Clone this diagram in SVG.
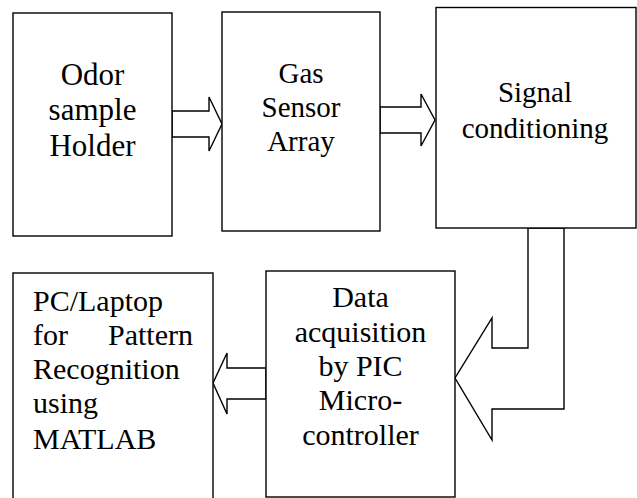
<svg xmlns="http://www.w3.org/2000/svg" width="637" height="498" viewBox="0 0 637 498">
  <style>
    .box { fill: #ffffff; stroke: #000000; stroke-width: 1.4; }
    .arrow { fill: #ffffff; stroke: #000000; stroke-width: 1.4; stroke-linejoin: miter; }
    .mid { text-anchor: middle; }
  </style>
  <rect width="637" height="498" fill="#ffffff"/>

  <!-- block arrows between stages -->
  <g id="connectors">
    <polygon class="arrow" points="172,111 209,111 209,97 222,124 209,151 209,137 172,137"/>
    <polygon class="arrow" points="380,107 421,107 421,94 435,120 421,146 421,133 380,133"/>
    <polygon class="arrow" points="528,228 528,348 492,348 492,318 455,378 492,440 492,409 564,409 564,228"/>
    <polygon class="arrow" points="266,368 227,368 227,353 213,383 227,414 227,399 266,399"/>
  </g>

  <g id="odor-holder">
    <rect class="box" x="13" y="13" width="159" height="223"/>
    <text class="mid" x="92.5" y="85" style="font-family: 'Liberation Serif', serif; font-size: 31px">Odor</text>
    <text class="mid" x="92.5" y="120" style="font-family: 'Liberation Serif', serif; font-size: 31px">sample</text>
    <text class="mid" x="92.5" y="156" style="font-family: 'Liberation Serif', serif; font-size: 31px">Holder</text>
  </g>

  <g id="gas-sensor">
    <rect class="box" x="222" y="12" width="158" height="219"/>
    <text class="mid" x="301" y="83" style="font-family: 'Liberation Serif', serif; font-size: 29px">Gas</text>
    <text class="mid" x="301" y="117" style="font-family: 'Liberation Serif', serif; font-size: 29px">Sensor</text>
    <text class="mid" x="301" y="151" style="font-family: 'Liberation Serif', serif; font-size: 29px">Array</text>
  </g>

  <g id="signal-conditioning">
    <rect class="box" x="436" y="7.5" width="200" height="220.5"/>
    <text class="mid" x="535" y="102" style="font-family: 'Liberation Serif', serif; font-size: 29px">Signal</text>
    <text class="mid" x="535" y="138" style="font-family: 'Liberation Serif', serif; font-size: 29px">conditioning</text>
  </g>

  <g id="data-acquisition">
    <rect class="box" x="266" y="271" width="189" height="226"/>
    <text class="mid" x="360.5" y="307" style="font-family: 'Liberation Serif', serif; font-size: 30px">Data</text>
    <text class="mid" x="360.5" y="342" style="font-family: 'Liberation Serif', serif; font-size: 30px">acquisition</text>
    <text class="mid" x="360.5" y="376" style="font-family: 'Liberation Serif', serif; font-size: 30px">by PIC</text>
    <text class="mid" x="360.5" y="410" style="font-family: 'Liberation Serif', serif; font-size: 30px">Micro-</text>
    <text class="mid" x="360.5" y="445" style="font-family: 'Liberation Serif', serif; font-size: 30px">controller</text>
  </g>

  <g id="pc-laptop">
    <rect class="box" x="13" y="273" width="200" height="240"/>
    <text x="33" y="311" style="font-family: 'Liberation Serif', serif; font-size: 30px">PC/Laptop</text>
    <text x="33" y="345" style="font-family: 'Liberation Serif', serif; font-size: 30px">for</text>
    <text x="193" y="345" text-anchor="end" style="font-family: 'Liberation Serif', serif; font-size: 30px">Pattern</text>
    <text x="33" y="379" style="font-family: 'Liberation Serif', serif; font-size: 30px">Recognition</text>
    <text x="33" y="413" style="font-family: 'Liberation Serif', serif; font-size: 30px">using</text>
    <text x="33" y="449" style="font-family: 'Liberation Serif', serif; font-size: 30px">MATLAB</text>
  </g>
</svg>
